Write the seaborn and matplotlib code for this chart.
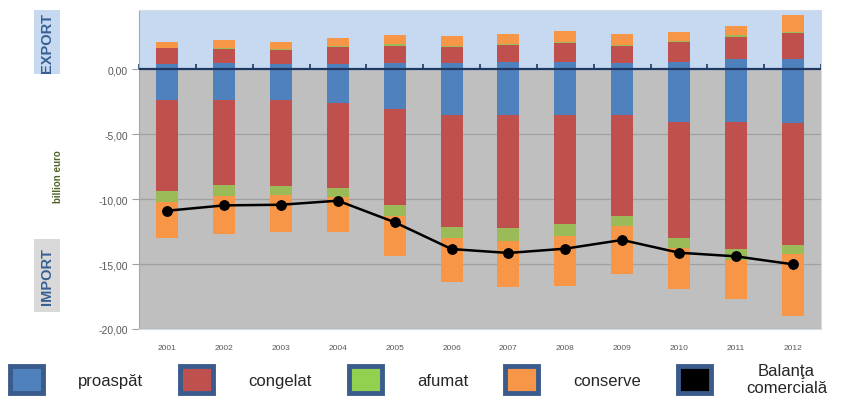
import numpy as np
import matplotlib
matplotlib.use("Agg")
import matplotlib.pyplot as plt
import seaborn as sns
from matplotlib.patches import Patch

# data (billion euro)
years = ["2001", "2002", "2003", "2004", "2005", "2006",
         "2007", "2008", "2009", "2010", "2011", "2012"]

# export (positive)
exp_fresh = np.array([0.38, 0.44, 0.38, 0.36, 0.49, 0.49, 0.54, 0.51, 0.44, 0.51, 0.74, 0.74])
exp_frozen = np.array([1.21, 1.10, 1.08, 1.31, 1.30, 1.20, 1.28, 1.49, 1.30, 1.54, 1.72, 2.00])
exp_smoked = np.array([0.06, 0.08, 0.10, 0.10, 0.10, 0.08, 0.10, 0.10, 0.10, 0.10, 0.12, 0.14])
exp_canned = np.array([0.45, 0.61, 0.54, 0.59, 0.69, 0.77, 0.77, 0.80, 0.82, 0.72, 0.71, 1.25])

# import (negative)
imp_fresh = np.array([-2.36, -2.38, -2.38, -2.59, -3.08, -3.51, -3.56, -3.51, -3.56, -4.10, -4.08, -4.15])
imp_frozen = np.array([-7.02, -6.52, -6.62, -6.54, -7.41, -8.67, -8.70, -8.44, -7.77, -8.90, -9.77, -9.36])
imp_smoked = np.array([-0.88, -0.87, -0.72, -0.69, -0.79, -0.84, -0.94, -0.92, -0.77, -0.77, -0.87, -0.75])
imp_canned = np.array([-2.76, -2.95, -2.84, -2.74, -3.13, -3.34, -3.59, -3.85, -3.67, -3.15, -2.95, -4.77])

balance = np.array([-10.90, -10.49, -10.44, -10.13, -11.79, -13.85,
                    -14.15, -13.82, -13.15, -14.13, -14.41, -15.02])

labels = ["proaspăt", "congelat", "afumat", "conserve", "Balanţa\ncomercială"]
bar_colors = ["#4F81BD", "#C0504D", "#9BBB59", "#F79646"]
legend_colors = ["#4F81BD", "#C0504D", "#92D050", "#F79646", "#000000"]

sns.set_style("white")
plt.rcParams["font.family"] = ["Liberation Sans", "DejaVu Sans"]

ymin, ymax = -20, 4.54

fig = plt.figure(figsize=(8.48, 4.06), dpi=100)
ax = fig.add_axes([139 / 848, 1 - 330 / 406, 682 / 848, 319 / 406])
ax.set_facecolor("#BFBFBF")
ax.axhspan(0, ymax, color="#C6D9F0", zorder=0)

# stacked bars, export up, import down
bottom = np.zeros(len(years))
for vals, c in zip([exp_fresh, exp_frozen, exp_smoked, exp_canned], bar_colors):
    sns.barplot(x=years, y=vals, bottom=bottom.copy(), color=c, saturation=1,
                width=0.39, errorbar=None, ax=ax, zorder=2, linewidth=0)
    bottom += vals
bottom = np.zeros(len(years))
for vals, c in zip([imp_fresh, imp_frozen, imp_smoked, imp_canned], bar_colors):
    sns.barplot(x=years, y=vals, bottom=bottom.copy(), color=c, saturation=1,
                width=0.39, errorbar=None, ax=ax, zorder=2, linewidth=0)
    bottom += vals

sns.lineplot(x=np.arange(len(years)), y=balance, color="black", marker="o",
             markersize=7, markeredgecolor="black", linewidth=1.8, ax=ax, zorder=4)

ax.set_xlim(-0.5, len(years) - 0.5)
ax.set_ylim(ymin, ymax)
yt = [0, -5, -10, -15, -20]
ax.set_yticks(yt)
ax.set_yticklabels([f"{v:.2f}".replace(".", ",") for v in yt],
                   fontsize=7.5, color="#595959")
ax.yaxis.grid(True, color="#A0A0A0", linewidth=0.9)
ax.set_axisbelow(True)
ax.tick_params(axis="y", length=5, color="#A0A0A0", pad=3, left=True)
ax.set_xticks(range(len(years)))
ax.set_xticklabels(years, fontsize=6, color="#595959")
ax.tick_params(axis="x", length=0, pad=11)
ax.set_xlabel("")
ax.set_ylabel("")
for s in ax.spines.values():
    s.set_color("#D4DCE8")
    s.set_linewidth(0.8)
ax.spines["left"].set_color("#A8A8A8")

# zero line with category separators
ax.axhline(0, color="#1F3864", linewidth=1.6, zorder=3)
sec = ax.secondary_xaxis(-ymin / (ymax - ymin))
sec.set_xticks(np.arange(-0.5, len(years), 1))
sec.tick_params(length=3.5, width=1.2, color="#1F3864", direction="out",
                labelbottom=False, labeltop=False)
for s in sec.spines.values():
    s.set_visible(False)

fig.text(58 / 848, 1 - 177 / 406, "billion euro", rotation=90, ha="center",
         va="center", fontsize=7, color="#4F6228", fontweight="bold")

# EXPORT / IMPORT boxes
for (y0, y1, txt, bg) in [(11, 75, "EXPORT", "#C6D9F0"), (240, 313, "IMPORT", "#D9D9D9")]:
    bx = fig.add_axes([34 / 848, 1 - y1 / 406, 26 / 848, (y1 - y0) / 406])
    bx.set_facecolor(bg)
    bx.set_xticks([])
    bx.set_yticks([])
    for s in bx.spines.values():
        s.set_visible(False)
    bx.text(0.5, 0.5, txt, rotation=90, ha="center", va="center",
            fontsize=10.5, fontweight="bold", color="#376092",
            transform=bx.transAxes)

handles = [Patch(facecolor=c, edgecolor="#3B5B8C", linewidth=3.5) for c in legend_colors]
leg = fig.legend(handles, labels, loc="lower left", bbox_to_anchor=(0.0, 0.0),
                 ncol=5, frameon=False, fontsize=12, handlelength=2.0,
                 handleheight=2.1, handletextpad=2.1, columnspacing=2.2,
                 borderaxespad=0.2)
for t in leg.get_texts():
    t.set_multialignment("center")

fig.savefig("out.png", dpi=100)
